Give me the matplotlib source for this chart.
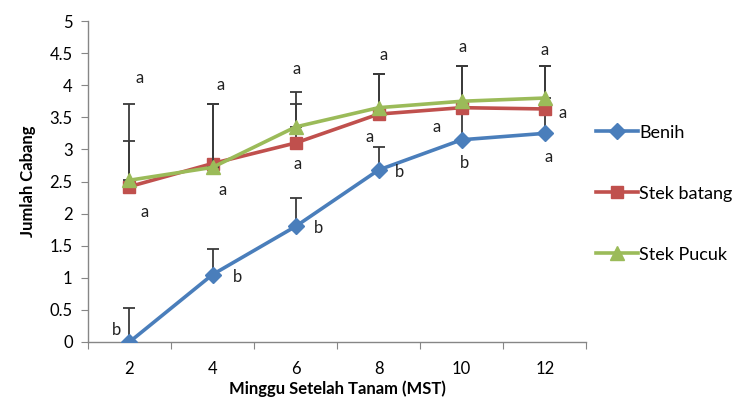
import matplotlib.pyplot as plt
import numpy as np

# data jumlah cabang per minggu
minggu = ['2', '4', '6', '8', '10', '12']
benih = [0.0, 1.05, 1.8, 2.68, 3.15, 3.25]
stek_batang = [2.42, 2.78, 3.1, 3.55, 3.65, 3.63]
stek_pucuk = [2.52, 2.72, 3.35, 3.65, 3.75, 3.8]

# galat (hanya ke atas)
err_benih = [0.53, 0.40, 0.45, 0.35, 0.45, 0.30]
err_batang = [1.28, 0.92, 0.80, 0.63, 0.65, 0.67]
err_pucuk = [0.61, 0.98, 0.35, 0.53, 0.55, 0.50]

# huruf notasi uji lanjut: (indeks minggu, geser x, nilai y, huruf)
huruf_atas = [(0, 0.12, 4.11, 'a'), (1, 0.10, 4.00, 'a'), (2, 0.01, 4.25, 'a'),
              (3, 0.06, 4.47, 'a'), (4, 0.01, 4.60, 'a'), (5, 0.00, 4.55, 'a')]
huruf_tengah = [(0, 0.18, 2.02, 'a'), (1, 0.12, 2.37, 'a'), (2, 0.03, 2.77, 'a'),
                (3, -0.11, 3.19, 'a'), (4, -0.30, 3.35, 'a'), (5, 0.21, 3.57, 'a')]
huruf_bawah = [(0, -0.16, 0.19, 'b'), (1, 0.30, 1.01, 'b'), (2, 0.27, 1.78, 'b'),
               (3, 0.25, 2.65, 'b'), (4, 0.03, 2.79, 'b'), (5, 0.05, 2.88, 'a')]

plt.rcParams['font.family'] = ['Lato', 'DejaVu Sans']

fig = plt.figure(figsize=(7.45, 4.0), dpi=100)
ax = fig.add_axes([0.118, 0.145, 0.669, 0.8025])

x = np.arange(len(minggu))
nol = np.zeros(len(minggu))

ax.errorbar(x, benih, yerr=[nol, err_benih], fmt='none', ecolor='#3a3a3a',
            elinewidth=1.3, capsize=4, capthick=1.3, zorder=2)
ax.plot(x, benih, color='#4A7EBB', lw=2.6, marker='D', ms=8,
        label='Benih', zorder=3)
ax.errorbar(x, stek_batang, yerr=[nol, err_batang], fmt='none', ecolor='#3a3a3a',
            elinewidth=1.3, capsize=4, capthick=1.3, zorder=4)
ax.plot(x, stek_batang, color='#C0504D', lw=2.6, marker='s', ms=9,
        label='Stek batang', zorder=5)
ax.errorbar(x, stek_pucuk, yerr=[nol, err_pucuk], fmt='none', ecolor='#3a3a3a',
            elinewidth=1.3, capsize=4, capthick=1.3, zorder=6)
ax.plot(x, stek_pucuk, color='#9BBB59', lw=2.6, marker='^', ms=10,
        label='Stek Pucuk', zorder=7)

for daftar in (huruf_atas, huruf_tengah, huruf_bawah):
    for i, dx, y, teks in daftar:
        ax.text(x[i] + dx, y, teks, fontsize=12, ha='center', va='center',
                color='#222222', zorder=8)

ax.set_xlim(-0.5, len(minggu) - 0.5)
ax.set_ylim(0, 5)
ax.set_yticks(np.arange(0, 5.01, 0.5))
ax.set_yticklabels(['0', '0.5', '1', '1.5', '2', '2.5', '3', '3.5', '4', '4.5', '5'])
ax.set_xticks(np.arange(-0.5, len(minggu), 1.0))
ax.set_xticklabels([])
ax.set_xticks(x, minor=True)
ax.set_xticklabels(minggu, minor=True)
ax.tick_params(axis='x', which='major', length=5, color='#868686')
ax.tick_params(axis='x', which='minor', length=0, pad=14, labelsize=12)
ax.tick_params(axis='y', length=5, color='#868686', labelsize=12, pad=6)

for s in ('top', 'right'):
    ax.spines[s].set_visible(False)
for s in ('left', 'bottom'):
    ax.spines[s].set_color('#868686')
    ax.spines[s].set_linewidth(1.0)

ax.set_ylabel('Jumlah Cabang', fontsize=12, fontweight='bold', labelpad=10)
ax.set_xlabel('Minggu Setelah Tanam (MST)', fontsize=12, fontweight='bold', labelpad=2)

ax.legend(loc='upper left', bbox_to_anchor=(1.005, 0.70), frameon=False,
          fontsize=13, labelspacing=2.5, handlelength=2.3, handletextpad=0.1,
          borderaxespad=0)

fig.savefig('out.png', dpi=100)
